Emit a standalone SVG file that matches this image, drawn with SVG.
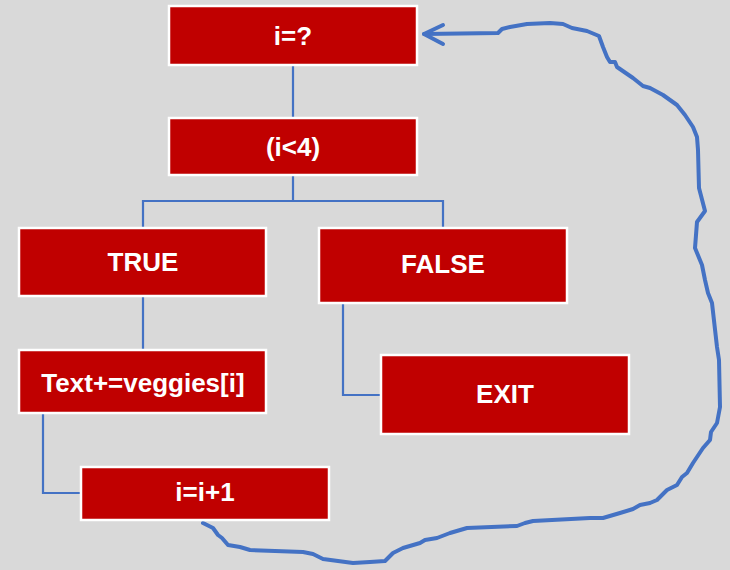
<svg xmlns="http://www.w3.org/2000/svg" width="730" height="570" viewBox="0 0 730 570">
  <style>
    .box rect { fill: #C00000; stroke: #FFFFFF; stroke-width: 2.5; }
    .box text { fill: #FFFFFF; font-family: "Liberation Sans", Arial, sans-serif; font-weight: bold; font-size: 26px; text-anchor: middle; }
    .conn { fill: none; stroke: #4472C4; stroke-width: 2.2; }
    .loop { fill: none; stroke: #4472C4; stroke-width: 4; stroke-linejoin: round; stroke-linecap: round; }
  </style>
  <rect x="0" y="0" width="730" height="570" fill="#D9D9D9"/>

  <!-- tree connectors -->
  <g id="connectors">
    <path class="conn" d="M293,66 V118"/>
    <path class="conn" d="M293,176 V201 M143,228 V201 H443 V228"/>
    <path class="conn" d="M143,297 V350"/>
    <path class="conn" d="M343,304 V395 H381"/>
    <path class="conn" d="M43,414 V493 H81"/>
    <!-- hand-drawn loop back to the start -->
    <path class="loop" d="M203,523 L213,528 L218,535 L222,538 L228,545 L240,547 L250,550 L303,552 L313,554 L323,559 L353,563 L370,562 L385,561 L393,553 L403,548 L420,543 L425,540 L437,538 L450,533 L467,528 L517,526 L525,523 L533,521 L590,518 L603,518 L620,513 L633,509 L640,505 L650,503 L657,500 L667,490 L677,485 L682,477 L687,473 L693,463 L703,448 L710,440 L711,432 L717,423 L720,407 L719,360 L717,347 L712,303 L708,293 L705,280 L702,265 L695,248 L697,222 L705,211 L699,188 L698,150 L697,137 L693,127 L685,115 L677,105 L663,95 L650,88 L643,86 L633,78 L617,67 L615,62 L610,62 L607,57 L603,47 L599,36 L587,31 L572,28 L563,24 L550,23 L527,24 L510,27 L502,29 L498,33 L424,34"/>
    <path class="loop" d="M443,25 L424,34 L443,44"/>
  </g>

  <g id="node-init" class="box">
    <rect x="169" y="6" width="248" height="59"/>
    <text x="293" y="45">i=?</text>
  </g>
  <g id="node-cond" class="box">
    <rect x="169" y="118" width="248" height="57"/>
    <text x="293" y="156">(i&lt;4)</text>
  </g>
  <g id="node-true" class="box">
    <rect x="19" y="228" width="247" height="68"/>
    <text x="143" y="271">TRUE</text>
  </g>
  <g id="node-false" class="box">
    <rect x="319" y="228" width="248" height="75"/>
    <text x="443" y="273">FALSE</text>
  </g>
  <g id="node-append" class="box">
    <rect x="19" y="350" width="247" height="63"/>
    <text x="143" y="392">Text+=veggies[i]</text>
  </g>
  <g id="node-exit" class="box">
    <rect x="381" y="355" width="248" height="79"/>
    <text x="505" y="403">EXIT</text>
  </g>
  <g id="node-increment" class="box">
    <rect x="81" y="467" width="248" height="53"/>
    <text x="205" y="501">i=i+1</text>
  </g>
</svg>
